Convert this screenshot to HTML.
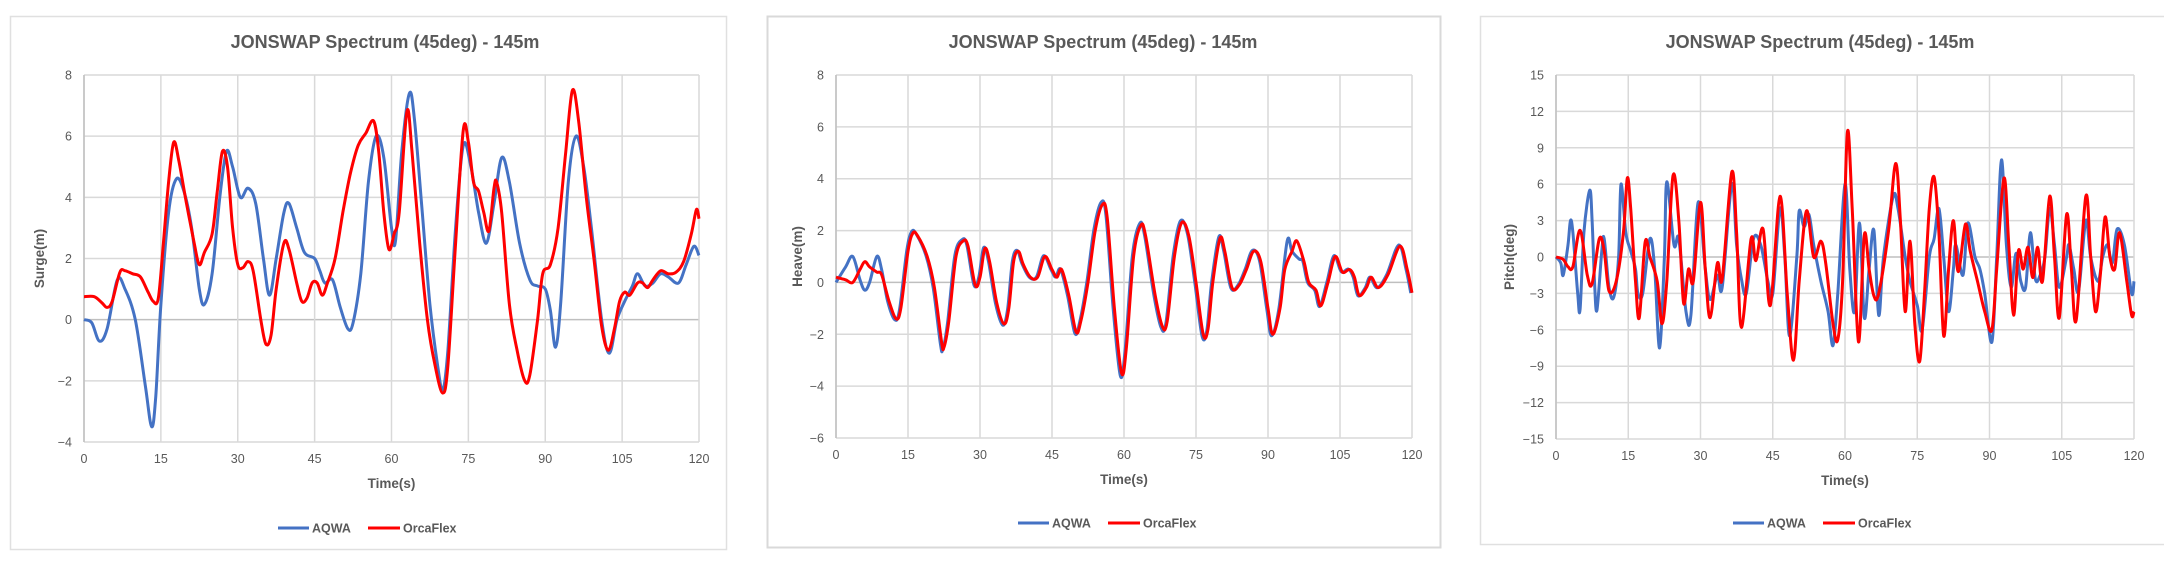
<!DOCTYPE html>
<html><head><meta charset="utf-8"><style>
html,body{margin:0;padding:0;background:#fff;}
svg{display:block;font-family:"Liberation Sans",sans-serif;}
</style></head><body>
<svg id="s" width="2164" height="575" xmlns="http://www.w3.org/2000/svg">
<rect x="0" y="0" width="2164" height="575" fill="#fff"/>
<rect x="10.5" y="16.5" width="716" height="533" fill="#fff" stroke="#e0e0e0" stroke-width="1.5"/>
<rect x="767.5" y="16.5" width="673" height="531" fill="#fff" stroke="#d9d9d9" stroke-width="2"/>
<rect x="1480.5" y="16.5" width="690" height="528" fill="#fff" stroke="#e0e0e0" stroke-width="1.5"/>
</svg>
<script>
var NS="http://www.w3.org/2000/svg",S=document.getElementById('s');
function el(t,a,txt){var e=document.createElementNS(NS,t);for(var k in a)e.setAttribute(k,a[k]);if(txt!==undefined)e.textContent=txt;S.appendChild(e);return e;}
function path(pts,X,Y){var p=pts.map(function(q){return [X(q[0]),Y(q[1])];});var d="M"+p[0][0].toFixed(1)+","+p[0][1].toFixed(1);
for(var i=0;i<p.length-1;i++){var p0=p[i-1]||p[i],p1=p[i],p2=p[i+1],p3=p[i+2]||p2;
var c1x=p1[0]+(p2[0]-p0[0])/6,c1y=p1[1]+(p2[1]-p0[1])/6,c2x=p2[0]-(p3[0]-p1[0])/6,c2y=p2[1]-(p3[1]-p1[1])/6;
d+="C"+c1x.toFixed(1)+","+c1y.toFixed(1)+" "+c2x.toFixed(1)+","+c2y.toFixed(1)+" "+p2[0].toFixed(1)+","+p2[1].toFixed(1);}
return d;}
function chart(c){
 var L=c.L,R=c.R,T=c.T,B=c.B;
 var X=function(t){return L+(R-L)*t/120;},Y=function(v){return T+(B-T)*(c.ymax-v)/(c.ymax-c.ymin);};
 for(var v=c.ymin;v<=c.ymax+1e-9;v+=c.step){el('line',{x1:L,x2:R,y1:Y(v),y2:Y(v),stroke:v==0?'#bfbfbf':'#d9d9d9','stroke-width':1.5});
  el('text',{x:L-12,y:Y(v)+4.5,'text-anchor':'end','font-size':12.5,fill:'#595959'},v<0?'\u2212'+(-v):''+v);}
 for(var t=0;t<=120;t+=15){el('line',{x1:X(t),x2:X(t),y1:T,y2:B,stroke:'#d9d9d9','stroke-width':1.5});
  el('text',{x:X(t),y:B+21,'text-anchor':'middle','font-size':12.5,fill:'#595959'},''+t);}
 el('line',{x1:L,x2:L,y1:T,y2:B,stroke:'#bfbfbf','stroke-width':1.5});
 el('text',{x:c.tx,y:48,'text-anchor':'middle','font-size':18,'font-weight':'bold',fill:'#595959'},'JONSWAP Spectrum (45deg) - 145m');
 el('text',{x:(L+R)/2,y:B+46,'text-anchor':'middle','font-size':13.5,'font-weight':'bold',fill:'#595959'},'Time(s)');
 var yt=el('text',{x:0,y:0,'text-anchor':'middle','font-size':13.5,'font-weight':'bold',fill:'#595959',transform:'translate('+c.ax+','+(T+B)/2+') rotate(-90)'},c.yl);
 el('path',{d:path(c.blue,X,Y),fill:'none',stroke:'#4472C4','stroke-width':3,'stroke-linejoin':'round'});
 el('path',{d:path(c.red,X,Y),fill:'none',stroke:'#FF0000','stroke-width':3,'stroke-linejoin':'round'});
 el('line',{x1:c.lg,x2:c.lg+31,y1:c.ly,y2:c.ly,stroke:'#4472C4','stroke-width':3});
 el('text',{x:c.lg+34,y:c.ly+4.5,'font-size':12.5,'font-weight':'bold',fill:'#595959'},'AQWA');
 el('line',{x1:c.lg+90,x2:c.lg+122,y1:c.ly,y2:c.ly,stroke:'#FF0000','stroke-width':3});
 el('text',{x:c.lg+125,y:c.ly+4.5,'font-size':12.5,'font-weight':'bold',fill:'#595959'},'OrcaFlex');
}
var sb=[[0,0],[1.5,-0.1],[3,-0.7],[4.5,-0.3],[6.5,1.3],[8,1.0],[10,0],[12,-2.2],[13.2,-3.5],[14,-2.5],[15,0.5],[16.5,3.5],[18,4.6],[19.5,4.2],[21,3.0],[22.5,1.0],[23.5,0.5],[25,1.5],[26.5,4.0],[27.8,5.5],[29,5.0],[30.5,4.0],[32,4.3],[33.5,3.8],[35,2.0],[36.2,0.8],[37.5,2.0],[39,3.5],[40,3.8],[41.5,3.0],[43,2.2],[45,2.0],[46,1.6],[47,1.2],[48.5,1.3],[50,0.4],[51.5,-0.3],[52.5,-0.1],[54,1.5],[55.5,4.5],[57,6.0],[58.5,5.3],[60,3.0],[60.8,2.6],[62,5.5],[63.5,7.4],[64.5,6.5],[66,3.5],[67.5,0.5],[69,-1.5],[70,-2.3],[71,-1.0],[72.5,3.0],[74,5.7],[75.5,5.0],[77,3.5],[78.5,2.5],[80,3.8],[81.5,5.3],[83,4.5],[85,2.5],[87,1.3],[88.5,1.1],[90,1.0],[91,0.3],[92,-0.9],[93,0.5],[94.5,4.5],[96,6.0],[97.5,5.0],[99,3.0],[101,0.0],[102.5,-1.1],[104,0.0],[105.5,0.6],[107,1.1],[108,1.5],[109.5,1.1],[111,1.2],[112.5,1.5],[114,1.4],[116,1.2],[117.5,1.8],[119,2.4],[120,2.1]];
var sr=[[0,0.75],[2,0.75],[3.5,0.55],[4.5,0.4],[5.5,0.6],[7,1.55],[8,1.6],[9.5,1.5],[11,1.4],[12.5,0.9],[13.5,0.6],[14.5,0.7],[15.5,2.5],[16.5,4.5],[17.5,5.8],[18.5,5.2],[20,3.8],[21.5,2.5],[22.5,1.8],[23.5,2.2],[25,2.8],[26,4.2],[27,5.5],[28,5.0],[29,3.0],[30,1.8],[31,1.7],[32,1.9],[33,1.6],[34.5,0.0],[35.5,-0.8],[36.5,-0.5],[37.5,1.0],[39,2.5],[40,2.3],[41.5,1.2],[42.5,0.6],[43.5,0.7],[44.5,1.2],[45.5,1.2],[46.5,0.8],[47.5,1.2],[49,2.0],[50.5,3.5],[52,4.8],[53.5,5.7],[55,6.1],[56.5,6.5],[57.5,5.5],[58.5,3.5],[59.5,2.3],[60.5,2.8],[61.5,3.5],[63,6.8],[64,5.5],[65.5,2.5],[67,0.0],[68.5,-1.5],[70,-2.4],[71,-1.5],[72.5,2.5],[74,6.2],[75,5.8],[76,4.5],[77,4.2],[78,3.5],[79,2.9],[80,4.3],[80.5,4.5],[81.5,3.5],[83,0.5],[84.5,-1.0],[86,-2.0],[87,-1.8],[88.5,0.0],[89.5,1.5],[91,1.8],[92.5,3.0],[94,5.5],[95.3,7.5],[96.5,6.5],[98,4.0],[99.5,2.0],[101,-0.2],[102.3,-1.0],[103.5,-0.3],[104.5,0.6],[105.5,0.9],[106.5,0.8],[108,1.2],[109,1.2],[110,1.05],[111,1.3],[112.5,1.6],[114,1.5],[115.5,1.55],[117,1.9],[118.5,2.8],[119.5,3.6],[120,3.3]];
var hr=[[0,0.2],[2,0.1],[3.5,0],[5,0.5],[6,0.8],[7,0.6],[8.5,0.4],[9.5,0.3],[11,-0.7],[12.5,-1.4],[13.5,-1.0],[15,1.2],[16,1.9],[17,1.8],[19,1.0],[20.5,-0.2],[22,-2.3],[22.5,-2.5],[23.5,-1.5],[25,1.0],[26.5,1.6],[27.5,1.4],[29,-0.1],[30,0.2],[31,1.3],[32,0.8],[33.5,-0.8],[35,-1.6],[36,-1.0],[37,0.8],[38,1.2],[39,0.7],[40.5,0.2],[42,0.2],[43.5,1.0],[45,0.5],[46,0.2],[47,0.5],[48.5,-0.5],[50,-1.9],[51,-1.5],[52.5,0.0],[54,2.0],[55.5,3.0],[56.5,2.5],[58,-1.0],[59.5,-3.5],[60.5,-2.5],[62,1.0],[63.5,2.2],[64.5,1.8],[66.5,-0.5],[68,-1.7],[69,-1.5],[70.5,1.0],[72,2.3],[73.5,1.8],[75,0.0],[76.5,-2.0],[77.5,-1.8],[78.5,0.0],[80,1.7],[81,1.2],[82.5,-0.2],[84,-0.1],[85.5,0.5],[87,1.2],[88.5,0.8],[90,-1.0],[91,-2.0],[92.5,-1.0],[93.5,0.5],[95,1.2],[96,1.6],[97.5,0.8],[98.5,0.0],[100,-0.3],[101,-0.9],[102.5,0.0],[104,1.0],[105.5,0.4],[107,0.5],[108,0.2],[109,-0.5],[110.5,-0.2],[111.5,0.2],[113,-0.2],[115,0.3],[117.5,1.4],[119,0.5],[120,-0.4]];
var hb=[[0,0],[2,0.6],[3.5,1.0],[5,0.1],[6,-0.3],[7,0.0],[8.5,1.0],[9.5,0.5]].concat(hr.filter(function(p){return p[0]>=11&&(p[0]<93||p[0]>97);}).map(function(p){return [p[0]-0.25,p[1]*1.03];}));
hb.push([94,1.6],[95,1.2],[96.5,0.9]);hb.sort(function(a,b){return a[0]-b[0];});
var pr=[[0,0],[1.5,-0.2],[2.5,-0.8],[3.5,-0.8],[5,2.2],[6.5,-1.5],[7.5,-2.2],[9,1.5],[10,0.5],[11,-2.8],[12.5,-2.0],[14,2.0],[14.8,6.5],[15.5,4],[16.5,-2],[17.3,-5],[18.5,1.2],[19.5,0],[21,-2],[22,-5.5],[23,-2],[24.3,6.7],[25.5,3],[26.5,-3.8],[27.5,-1],[28.5,-2],[30,4.5],[31,-1],[32,-5],[33.5,-0.5],[34.5,-1.8],[36.5,7],[37.5,2],[38.5,-5.8],[40.5,1.5],[41.5,-0.3],[43,2.3],[44.5,-4],[46.5,5],[48,-3],[49.3,-8.5],[50.5,-2],[52,3.8],[53.5,0],[55,1.3],[56,-0.5],[57.5,-5.5],[58.5,-6.8],[59.5,-2],[60.5,10.3],[61.5,4],[62.8,-7],[64,1.8],[65,-1],[66,-3.2],[67,-3],[69,2],[70.5,7.7],[71.5,3],[72.5,-4.5],[73.5,1.3],[74.5,-5.5],[75.5,-8.6],[76.5,-3],[77.5,4],[78.5,6.6],[79.5,2],[80.5,-6.5],[81.5,-1],[82.5,3],[83.5,-1.2],[85,2.7],[86,0.5],[87.5,-2],[89,-4.5],[90.5,-6],[91.5,-1],[93,6.5],[94,1],[95,-4.8],[96,0.5],[97,-1],[98,0.8],[99,-1.7],[100,0.8],[101,-2],[102.5,5],[103.5,0],[104.5,-5],[106,3.5],[107,-1],[108,-5.2],[110,5],[111,0],[112,-4.5],[113,-1.5],[114,3.3],[115,0],[116,-1],[117,2],[118.5,-2],[119.5,-4.8],[120,-4.5]];
var pb=[[0,0],[1,-0.5],[1.5,-1.5],[2.5,1],[3,3],[3.5,2],[4.5,-3],[5,-4.3],[5.8,2],[7,5.5],[7.5,3],[8,-2],[8.5,-4.4],[9.5,0.5],[10,1.5],[11,-2.5],[12,-3.3],[13,0],[13.5,6],[14.5,2],[15.5,0.5],[16.5,-1],[17,-3],[18,-3],[19.5,1.5],[20.5,-1],[21.5,-7.5],[22.5,0],[23,6.2],[24.5,1],[25.5,1.5],[27,-4.5],[28,-4.8],[29.5,4.5],[31,-1],[32,-3.5],[33.5,-1.5],[34.5,-2.5],[36.5,6],[37.5,1],[38.5,-1.8],[39.5,-3],[41,1.5],[42.5,1],[44,-2],[45,-3],[46.5,4],[47.5,0],[48.5,-6.5],[50,0],[50.5,3.8],[51.5,2.5],[52.5,3.5],[53.5,1],[55,-2],[56.5,-4.5],[57.5,-7.3],[58.5,-3],[60,6],[61,-1],[62,-4.5],[63,2.8],[64,-5],[65,-1],[66,2.2],[67,-4.8],[68,0],[70,5],[71,4],[72.5,0],[73.5,-2],[75,-4],[76,-6],[77.5,0],[78.5,1.5],[79.5,4],[80.5,0],[81.5,-4.5],[82.5,-1],[83,1],[84.5,-1.5],[85.5,2.8],[87,0],[88,-1],[89,-3],[90.5,-7],[91.5,0],[92.5,8],[93.5,1],[94.5,-2.5],[95.5,0.3],[96.5,-2],[97.5,-2.5],[98.5,2],[99.5,-1.8],[100.5,-1.5],[101.5,0],[102.5,4],[103.5,1],[104.5,-2.5],[106,0],[106.5,1],[107.5,-1],[108.5,-2.8],[110,3],[111,0],[112.5,-2],[113.5,0],[114.5,1],[115.5,-0.5],[116.5,2.3],[118,1],[119.5,-3],[120,-2]];
chart({L:84,R:699,T:75,B:442,ymin:-4,ymax:8,step:2,tx:385,ax:44,yl:'Surge(m)',blue:sb,red:sr,lg:278,ly:528});
chart({L:836,R:1412,T:75,B:438,ymin:-6,ymax:8,step:2,tx:1103,ax:802,yl:'Heave(m)',blue:hb,red:hr,lg:1018,ly:523});
chart({L:1556,R:2134,T:75,B:439,ymin:-15,ymax:15,step:3,tx:1820,ax:1514,yl:'Pitch(deg)',blue:pb,red:pr,lg:1733,ly:523});
</script>
</body></html>
